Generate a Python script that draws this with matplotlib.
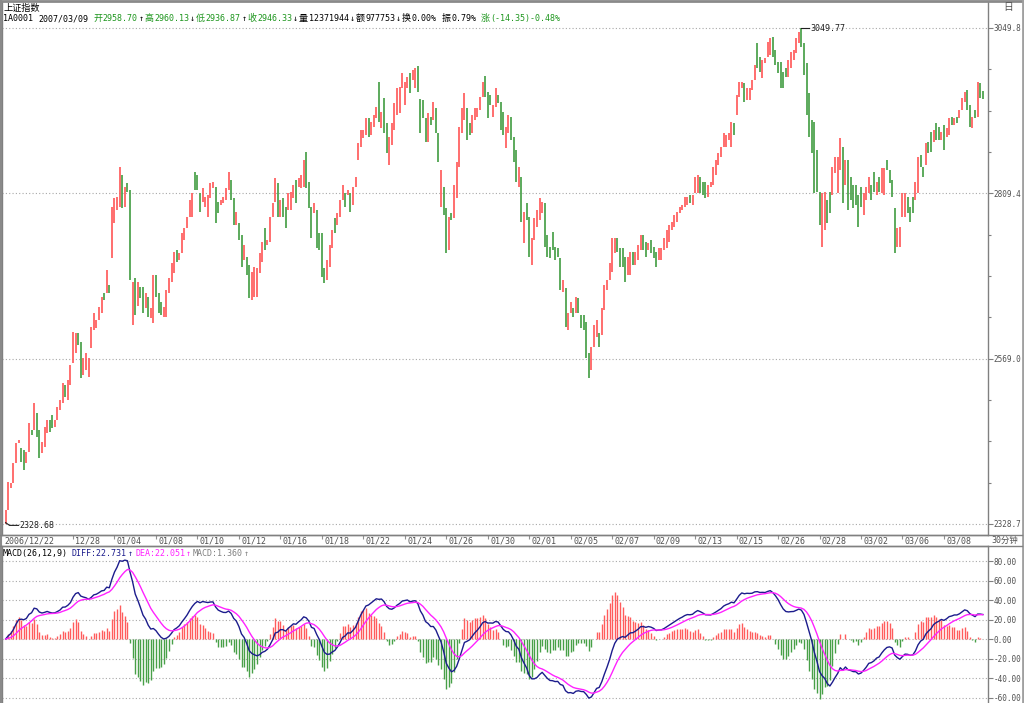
import numpy as np
import matplotlib
matplotlib.use("Agg")
import matplotlib.pyplot as plt
from matplotlib.lines import Line2D
from matplotlib.ticker import FixedLocator, FuncFormatter

# ---------------- data (30-minute bars, 上证指数) ----------------
opens = [
    2328.68, 2349, 2381, 2388, 2417, 2447, 2439, 2436, 2417, 2433,
    2465, 2465, 2490, 2465, 2432, 2441, 2461, 2480, 2487, 2470,
    2480, 2494, 2505, 2531, 2509, 2531, 2563, 2577, 2606, 2593,
    2545, 2553, 2542, 2585, 2611, 2613, 2625, 2636, 2665, 2665,
    2676, 2715, 2766, 2785, 2790, 2836, 2790, 2825, 2814, 2618,
    2686, 2645, 2673, 2673, 2643, 2659, 2628, 2621, 2691, 2665,
    2652, 2630, 2630, 2665, 2681, 2694, 2727, 2713, 2723, 2742,
    2759, 2775, 2775, 2840, 2836, 2810, 2797, 2790, 2775, 2803,
    2817, 2819, 2797, 2793, 2795, 2800, 2814, 2829, 2803, 2763,
    2766, 2749, 2713, 2717, 2705, 2654, 2659, 2659, 2694, 2710,
    2759, 2734, 2739, 2775, 2797, 2825, 2775, 2803, 2790, 2785,
    2785, 2803, 2829, 2819, 2817, 2819, 2870, 2826, 2790, 2781,
    2785, 2752, 2752, 2701, 2683, 2702, 2730, 2774, 2763, 2775,
    2800, 2810, 2807, 2810, 2792, 2819, 2858, 2877, 2890, 2894,
    2919, 2894, 2906, 2919, 2971, 2904, 2948, 2912, 2851, 2880,
    2902, 2923, 2926, 2963, 2938, 2963, 2984, 2974, 2963, 2995,
    2946, 2945, 2919, 2884, 2920, 2916, 2934, 2897, 2790, 2819,
    2788, 2727, 2781, 2774, 2803, 2848, 2897, 2916, 2934, 2912,
    2897, 2916, 2920, 2931, 2950, 2980, 2957, 2952, 2920, 2935,
    2952, 2942, 2928, 2875, 2897, 2920, 2891, 2872, 2819, 2833,
    2737, 2795, 2775, 2705, 2742, 2760, 2771, 2781, 2795, 2749,
    2731, 2753, 2731, 2730, 2715, 2666, 2672, 2611, 2635, 2643,
    2635, 2657, 2633, 2633, 2622, 2577, 2553, 2586, 2601, 2607,
    2604, 2640, 2669, 2683, 2695, 2723, 2745, 2730, 2730, 2717,
    2691, 2691, 2724, 2705, 2712, 2727, 2749, 2739, 2727, 2742,
    2731, 2724, 2712, 2712, 2727, 2730, 2739, 2756, 2760, 2768,
    2781, 2785, 2790, 2793, 2807, 2793, 2810, 2810, 2833, 2826,
    2826, 2804, 2818, 2822, 2836, 2851, 2862, 2877, 2877, 2887,
    2877, 2912, 2923, 2949, 2963, 2970, 2945, 2945, 2960, 2974,
    3028, 3007, 2977, 2999, 3007, 3010, 3037, 3018, 3000, 3000,
    2986, 2992, 2979, 2992, 3003, 3014, 3028, 3049.77, 3028, 2999,
    2955, 2916, 2913, 2872, 2811, 2731, 2756, 2800, 2811, 2807,
    2839, 2810, 2843, 2877, 2822, 2858, 2833, 2822, 2822, 2807,
    2819, 2778, 2800, 2810, 2822, 2840, 2807, 2833, 2810, 2807,
    2858, 2843, 2829, 2788, 2731, 2731, 2775, 2775, 2804, 2790,
    2804, 2800, 2810, 2865, 2848, 2851, 2884, 2899, 2884, 2912,
    2906, 2887, 2909, 2891, 2894, 2920, 2909, 2920, 2919, 2931,
    2942, 2960, 2938, 2904, 2931, 2920, 2970, 2958.70,
]
closes = [
    2349, 2390, 2388, 2417, 2447, 2451, 2419, 2407, 2433, 2475,
    2458, 2505, 2455, 2425, 2448, 2470, 2480, 2462, 2468, 2480,
    2499, 2509, 2534, 2513, 2538, 2560, 2608, 2606, 2589, 2541,
    2570, 2577, 2570, 2615, 2636, 2625, 2644, 2659, 2654, 2698,
    2665, 2789, 2803, 2804, 2848, 2788, 2819, 2811, 2683, 2680,
    2633, 2681, 2657, 2636, 2665, 2630, 2643, 2691, 2659, 2636,
    2633, 2644, 2669, 2686, 2708, 2724, 2710, 2723, 2752, 2759,
    2775, 2800, 2810, 2814, 2814, 2782, 2817, 2804, 2807, 2825,
    2826, 2766, 2781, 2800, 2804, 2817, 2840, 2800, 2763, 2782,
    2742, 2702, 2734, 2691, 2657, 2695, 2702, 2701, 2723, 2739,
    2727, 2742, 2775, 2795, 2832, 2775, 2800, 2775, 2759, 2810,
    2811, 2822, 2795, 2832, 2836, 2858, 2817, 2788, 2745, 2795,
    2730, 2727, 2688, 2679, 2713, 2734, 2756, 2752, 2781, 2800,
    2822, 2790, 2814, 2782, 2819, 2833, 2883, 2902, 2902, 2919,
    2891, 2913, 2923, 2935, 2913, 2928, 2897, 2868, 2891, 2912,
    2941, 2963, 2964, 2984, 2971, 2979, 2955, 2989, 2992, 2957,
    2897, 2919, 2884, 2926, 2909, 2942, 2897, 2855, 2843, 2778,
    2723, 2775, 2771, 2822, 2855, 2906, 2934, 2955, 2887, 2894,
    2923, 2934, 2934, 2950, 2971, 2950, 2919, 2938, 2938, 2963,
    2941, 2902, 2894, 2906, 2923, 2887, 2855, 2826, 2848, 2768,
    2782, 2771, 2717, 2745, 2774, 2785, 2803, 2797, 2731, 2717,
    2715, 2727, 2712, 2717, 2669, 2683, 2615, 2635, 2651, 2630,
    2659, 2635, 2614, 2611, 2570, 2541, 2586, 2618, 2625, 2586,
    2643, 2676, 2683, 2708, 2745, 2745, 2724, 2702, 2702, 2681,
    2717, 2724, 2705, 2724, 2734, 2749, 2727, 2717, 2737, 2723,
    2715, 2702, 2730, 2730, 2745, 2756, 2763, 2768, 2778, 2782,
    2790, 2793, 2804, 2804, 2795, 2807, 2833, 2836, 2810, 2807,
    2803, 2822, 2826, 2848, 2858, 2868, 2877, 2897, 2894, 2897,
    2913, 2894, 2952, 2971, 2971, 2942, 2963, 2963, 2974, 2996,
    2992, 2986, 3003, 3006, 3029, 3035, 3008, 2996, 2984, 2963,
    2963, 2979, 3003, 3015, 3018, 3035, 3044, 3022, 2982, 2923,
    2891, 2868, 2810, 2811, 2763, 2810, 2811, 2766, 2781, 2848,
    2862, 2862, 2890, 2796, 2858, 2785, 2800, 2788, 2793, 2760,
    2790, 2810, 2819, 2833, 2800, 2811, 2826, 2811, 2846, 2846,
    2843, 2825, 2804, 2723, 2759, 2760, 2810, 2810, 2781, 2768,
    2781, 2826, 2862, 2848, 2833, 2883, 2868, 2870, 2902, 2887,
    2887, 2899, 2872, 2904, 2919, 2909, 2919, 2912, 2931, 2948,
    2957, 2931, 2906, 2920, 2919, 2971, 2948, 2946.33,
]

price_ticks = [3049.8, 2809.4, 2569.0, 2328.7]
macd_ticks = [80, 60, 40, 20, 0, -20, -40, -60]
date_labels = ["2006/12/22", "12/28", "01/04", "01/08", "01/10", "01/12", "01/16",
               "01/18", "01/22", "01/24", "01/26", "01/30", "02/01", "02/05",
               "02/07", "02/09", "02/13", "02/15", "02/26", "02/28", "03/02",
               "03/06", "03/08"]
date_index = [0, 26, 42, 58, 74, 90, 106, 122, 138, 154, 170, 186, 202, 218,
              234, 250, 266, 282, 298, 314, 330, 346, 362]

title_text = "上证指数"
header_segments = [
    ("1A0001", "k"), ("2007/03/09", "k"),
    ("开2958.70", "g"), ("↑", "k"), ("高2960.13", "g"), ("↓", "k"),
    ("低2936.87", "g"), ("↑", "k"), ("收2946.33", "g"), ("↓", "k"),
    ("量12371944", "k"), ("↓", "k"), ("额977753", "k"), ("↓", "k"),
    ("换0.00%", "k"), ("振0.79%", "k"), ("涨(-14.35)-0.48%", "g"),
]
macd_segments = [
    ("MACD(26,12,9)", "k"), ("DIFF:22.731", "b"), ("↑", "b"),
    ("DEA:22.051", "m"), ("↑", "m"), ("MACD:1.360", "gr"), ("↑", "gr"),
]

# ---------------- style ----------------
W, H = 1024, 703
plt.rcParams['font.family'] = ['DejaVu Sans Mono', 'DejaVu Sans', 'Noto Sans CJK SC']
FS = 6.0
AFS = 5.5
GRAY = '#808080'
TXT = '#505050'
RED = '#ff5c5c'
GREEN = '#48a048'
HGREEN = '#1e961e'
NAVY = '#1c1c8c'
MAG = '#ff22ff'
cmap = {"k": "#000000", "g": HGREEN, "b": NAVY, "m": MAG, "gr": "#808080"}

fig = plt.figure(figsize=(W / 100, H / 100), dpi=100)
fig.patch.set_facecolor('white')


def px_axes(x0, y0, x1, y1):
    return fig.add_axes([x0 / W, 1 - y1 / H, (x1 - x0) / W, (y1 - y0) / H])


def fig_line(x0, y0, x1, y1, color=GRAY, lw=1.0):
    fig.add_artist(Line2D([x0 / W, x1 / W], [1 - y0 / H, 1 - y1 / H],
                          transform=fig.transFigure, color=color, lw=lw))


o = np.array(opens, dtype=float)
c = np.array(closes, dtype=float)
n = len(c)
idx = np.arange(n)
XLIM = (-1.4, 379.0)

# ---------------- main price panel ----------------
ax = px_axes(2, 2, 988, 535)
ax.set_xlim(*XLIM)
ax.set_ylim(2312.7, 3087.6)
up = c >= o
lo = np.minimum(o, c)
hi = np.maximum(o, c)
ax.vlines(idx[up], lo[up], hi[up], color=RED, lw=1.25)
ax.vlines(idx[~up], lo[~up], hi[~up], color=GREEN, lw=1.25)

ax.yaxis.tick_right()
ax.yaxis.set_major_locator(FixedLocator(price_ticks))
ax.yaxis.set_major_formatter(FuncFormatter(lambda v, p: f"{v:.1f}"))
minor = []
for a, b in zip(price_ticks[:-1], price_ticks[1:]):
    minor += list(np.linspace(a, b, 5)[1:-1])
ax.yaxis.set_minor_locator(FixedLocator(minor))
ax.tick_params(axis='y', which='major', direction='out', length=3.5, width=0.8,
               color=GRAY, labelsize=AFS, labelcolor=TXT, pad=0.5)
ax.tick_params(axis='y', which='minor', direction='out', length=2.5, width=0.8, color=GRAY)
ax.set_xticks([])
ax.grid(axis='y', which='major', ls=(0, (1, 2)), color='#a8a8a8', lw=0.8)
for s in ax.spines.values():
    s.set_color(GRAY)
    s.set_linewidth(1)
ax.spines['top'].set_visible(False)

imax = int(np.argmax(hi))
imin = int(np.argmin(lo))
ax.plot([imax, imax + 3], [hi[imax], hi[imax]], color='#202020', lw=0.8)
ax.text(imax + 3.3, hi[imax], f"{hi[imax]:.2f}", fontsize=FS, va='center', ha='left', color='#202020')
ax.plot([imin, imin + 1.5, imin + 5], [lo[imin] + 2, lo[imin] - 2, lo[imin] - 2], color='#202020', lw=0.8)
ax.text(imin + 5.3, lo[imin] - 2, f"{lo[imin]:.2f}", fontsize=FS, va='center', ha='left', color='#202020')

# ---------------- date strip ----------------
dax = px_axes(2, 535, 988, 546)
dax.set_xlim(*XLIM)
dax.set_ylim(0, 1)
dax.axis('off')
for k, (i, lab) in enumerate(zip(date_index, date_labels)):
    if k == 0:
        dax.text(i - 0.6, 0.42, lab, fontsize=FS, color=TXT, va='center', ha='left')
    else:
        dax.vlines(i, 0.62, 1.0, color='#909090', lw=0.8)
        dax.text(i + 0.9, 0.42, lab, fontsize=FS, color=TXT, va='center', ha='left')

# ---------------- MACD panel ----------------
def ema(x, nn):
    out = np.empty(len(x))
    out[0] = x[0]
    for i in range(1, len(x)):
        out[i] = (2 * x[i] + (nn - 1) * out[i - 1]) / (nn + 1)
    return out

diff = ema(c, 12) - ema(c, 26)
dea = ema(diff, 9)
macd = 2 * (diff - dea)

mx = px_axes(2, 546, 988, 703)
mx.set_xlim(*XLIM)
mx.set_ylim(-65.6, 95.4)
pos = macd >= 0
mx.vlines(idx[pos], 0, macd[pos], color=RED, lw=1.0)
mx.vlines(idx[~pos], 0, macd[~pos], color=GREEN, lw=1.0)
mx.plot(idx, diff, color=NAVY, lw=1.0)
mx.plot(idx, dea, color=MAG, lw=1.0)
mx.yaxis.tick_right()
mx.yaxis.set_major_locator(FixedLocator(macd_ticks))
mx.yaxis.set_major_formatter(FuncFormatter(lambda v, p: f"{v:.2f}"))
mx.tick_params(axis='y', which='major', direction='out', length=3.5, width=0.8,
               color=GRAY, labelsize=AFS, labelcolor=TXT, pad=0.5)
mx.set_xticks([])
mx.grid(axis='y', ls=(0, (1, 2)), color='#a8a8a8', lw=0.8)
for s in mx.spines.values():
    s.set_color(GRAY)
    s.set_linewidth(1)
mx.spines['bottom'].set_visible(False)

# ---------------- frame lines ----------------
fig_line(0, 1, W, 1, color='#8a8a8a', lw=2)
fig_line(1, 0, 1, H, color='#8a8a8a', lw=1.5)
fig_line(1022.5, 0, 1022.5, H, color='#a0a0a0', lw=2)
fig_line(0, 535, 1022, 535, color=GRAY, lw=1)
fig_line(0, 546, 1022, 546, color=GRAY, lw=1)

# ---------------- texts ----------------
renderer = fig.canvas.get_renderer()
LATIN = ['DejaVu Sans Mono', 'DejaVu Sans']
CJK = ['Noto Sans CJK SC']


def split_runs(s):
    runs, cur, kind = [], '', None
    for ch in s:
        k = ord(ch) >= 0x2E80
        if kind is None or k == kind:
            cur += ch
        else:
            runs.append((cur, kind))
            cur = ch
        kind = k
    runs.append((cur, kind))
    return runs


def seq_text(x, y, segments, gaps):
    for (s, col), g in zip(segments, gaps):
        for run, is_cjk in split_runs(s):
            t = fig.text(x / W, 1 - y / H, run, color=cmap[col],
                         fontsize=6.5 if is_cjk else FS,
                         family=CJK if is_cjk else LATIN,
                         va='baseline', ha='left')
            bb = t.get_window_extent(renderer=renderer)
            x += bb.width + (0.5 if is_cjk else 0)
        x += g


fig.text(3 / W, 1 - 10.5 / H, title_text, fontsize=6.6, family=CJK, color='k',
         va='baseline', ha='left')
hgaps = [5, 5, 1, 1, 1, 1, 1, 1, 1, 1, 1, 1, 1, 1, 5, 5, 0]
seq_text(3, 21, header_segments, hgaps)
mgaps = [4, 1, 2, 1, 2, 1, 0]
seq_text(3, 556, macd_segments, mgaps)

fig.text(1008 / W, 1 - 7 / H, "日", fontsize=7, family=CJK, color=TXT, va='center', ha='center')
fig.text(991 / W, 1 - 540.5 / H, "30分钟", fontsize=FS, family=LATIN + CJK, color=TXT,
         va='center', ha='left')

fig.savefig("out.png", dpi=100, facecolor='white')
